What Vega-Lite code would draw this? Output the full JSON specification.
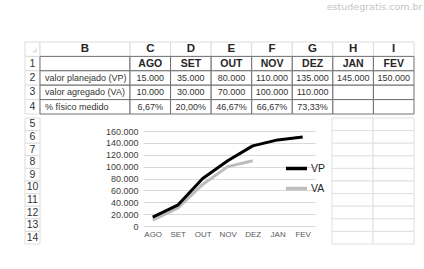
{
  "$schema": "https://vega.github.io/schema/vega-lite/v6.json",
  "padding": {"left": 24, "top": 2, "right": 0, "bottom": 0},
  "background": "white",
  "spacing": 0,
  "title": {"text": "estudegratis.com.br", "anchor": "end", "frame": "bounds", "font": "DejaVu Sans", "fontSize": 9.5, "fontWeight": "normal", "color": "#c4c4c4", "offset": 30, "dx": 8},
  "config": {
    "font": "Liberation Sans",
    "view": {"stroke": null},
    "concat": {"spacing": 0},
    "locale": {"number": {"decimal": ",", "thousands": ".", "grouping": [3], "currency": ["R$", ""]}}
  },
  "vconcat": [
    {
      "bounds": "flush",
      "spacing": 0,
      "hconcat": [
        {
          "width": 15, "height": 72,
          "data": {"values": [
            {"c": "#", "r": "h", "t": ""}, {"c": "#", "r": "1", "t": "1"}, {"c": "#", "r": "2", "t": "2"},
            {"c": "#", "r": "3", "t": "3"}, {"c": "#", "r": "4", "t": "4"}
          ]},
          "encoding": {
            "x": {"field": "c", "type": "nominal", "axis": null, "scale": {"paddingInner": 0, "paddingOuter": 0}},
            "y": {"field": "r", "type": "nominal", "sort": ["h", "1", "2", "3", "4"], "axis": null, "scale": {"paddingInner": 0, "paddingOuter": 0}}
          },
          "layer": [
            {"mark": {"type": "rect", "fill": "#ffffff", "stroke": "#dcdcdc", "strokeWidth": 1}},
            {"transform": [{"filter": "datum.r == 'h'"}], "mark": {"type": "point", "shape": "M1,-1L1,1L-1,1Z", "filled": true, "color": "#d6d6d6", "size": 22, "xOffset": 2, "yOffset": 1}},
            {"mark": {"type": "text", "fontSize": 10.5, "color": "#333333"}, "encoding": {"text": {"field": "t"}}}
          ]
        },
        {
          "width": 90, "height": 72,
          "data": {"values": [
            {"c": "B", "r": "h", "t": "B"}, {"c": "B", "r": "1", "t": ""},
            {"c": "B", "r": "2", "t": "valor planejado (VP)"}, {"c": "B", "r": "3", "t": "valor agregado (VA)"},
            {"c": "B", "r": "4", "t": "% físico medido"}
          ]},
          "encoding": {
            "x": {"field": "c", "type": "nominal", "axis": null, "scale": {"paddingInner": 0, "paddingOuter": 0}},
            "y": {"field": "r", "type": "nominal", "sort": ["h", "1", "2", "3", "4"], "axis": null, "scale": {"paddingInner": 0, "paddingOuter": 0}}
          },
          "layer": [
            {"transform": [{"filter": "datum.r == 'h'"}], "mark": {"type": "rect", "fill": "#ffffff", "stroke": "#dcdcdc", "strokeWidth": 1}},
            {"transform": [{"filter": "datum.r != 'h'"}], "mark": {"type": "rect", "fill": "#ffffff", "stroke": "#707070", "strokeWidth": 1}},
            {"transform": [{"filter": "datum.r == 'h'"}], "mark": {"type": "text", "fontSize": 11.5, "fontWeight": "bold", "color": "#262626"}, "encoding": {"text": {"field": "t"}}},
            {"transform": [{"filter": "datum.r != 'h'"}], "mark": {"type": "text", "fontSize": 9, "align": "left", "dx": 5, "color": "#333333"},
             "encoding": {"x": {"field": "c", "type": "nominal", "bandPosition": 0, "axis": null}, "text": {"field": "t"}}}
          ]
        },
        {
          "width": 284, "height": 72,
          "data": {"values": [
            {"c": "C", "r": "h", "t": "C"}, {"c": "C", "r": "1", "t": "AGO"}, {"c": "C", "r": "2", "t": "15.000"}, {"c": "C", "r": "3", "t": "10.000"}, {"c": "C", "r": "4", "t": "6,67%"},
            {"c": "D", "r": "h", "t": "D"}, {"c": "D", "r": "1", "t": "SET"}, {"c": "D", "r": "2", "t": "35.000"}, {"c": "D", "r": "3", "t": "30.000"}, {"c": "D", "r": "4", "t": "20,00%"},
            {"c": "E", "r": "h", "t": "E"}, {"c": "E", "r": "1", "t": "OUT"}, {"c": "E", "r": "2", "t": "80.000"}, {"c": "E", "r": "3", "t": "70.000"}, {"c": "E", "r": "4", "t": "46,67%"},
            {"c": "F", "r": "h", "t": "F"}, {"c": "F", "r": "1", "t": "NOV"}, {"c": "F", "r": "2", "t": "110.000"}, {"c": "F", "r": "3", "t": "100.000"}, {"c": "F", "r": "4", "t": "66,67%"},
            {"c": "G", "r": "h", "t": "G"}, {"c": "G", "r": "1", "t": "DEZ"}, {"c": "G", "r": "2", "t": "135.000"}, {"c": "G", "r": "3", "t": "110.000"}, {"c": "G", "r": "4", "t": "73,33%"},
            {"c": "H", "r": "h", "t": "H"}, {"c": "H", "r": "1", "t": "JAN"}, {"c": "H", "r": "2", "t": "145.000"}, {"c": "H", "r": "3", "t": ""}, {"c": "H", "r": "4", "t": ""},
            {"c": "I", "r": "h", "t": "I"}, {"c": "I", "r": "1", "t": "FEV"}, {"c": "I", "r": "2", "t": "150.000"}, {"c": "I", "r": "3", "t": ""}, {"c": "I", "r": "4", "t": ""}
          ]},
          "encoding": {
            "x": {"field": "c", "type": "nominal", "sort": ["C", "D", "E", "F", "G", "H", "I"], "axis": null, "scale": {"paddingInner": 0, "paddingOuter": 0}},
            "y": {"field": "r", "type": "nominal", "sort": ["h", "1", "2", "3", "4"], "axis": null, "scale": {"paddingInner": 0, "paddingOuter": 0}}
          },
          "layer": [
            {"transform": [{"filter": "datum.r == 'h'"}], "mark": {"type": "rect", "fill": "#ffffff", "stroke": "#dcdcdc", "strokeWidth": 1}},
            {"transform": [{"filter": "datum.r != 'h'"}], "mark": {"type": "rect", "fill": "#ffffff", "stroke": "#707070", "strokeWidth": 1}},
            {"transform": [{"filter": "datum.r == 'h'"}], "mark": {"type": "text", "fontSize": 11.5, "fontWeight": "bold", "color": "#262626"}, "encoding": {"text": {"field": "t"}}},
            {"transform": [{"filter": "datum.r == '1'"}], "mark": {"type": "text", "fontSize": 10.5, "fontWeight": "bold", "color": "#262626"}, "encoding": {"text": {"field": "t"}}},
            {"transform": [{"filter": "datum.r != 'h' && datum.r != '1'"}], "mark": {"type": "text", "fontSize": 9, "color": "#333333"}, "encoding": {"text": {"field": "t"}}}
          ]
        }
      ]
    },
    {
      "spacing": 0,
      "hconcat": [
        {
          "width": 15, "height": 126,
          "data": {"values": [
            {"c": "#", "r": "5"}, {"c": "#", "r": "6"}, {"c": "#", "r": "7"}, {"c": "#", "r": "8"}, {"c": "#", "r": "9"},
            {"c": "#", "r": "10"}, {"c": "#", "r": "11"}, {"c": "#", "r": "12"}, {"c": "#", "r": "13"}, {"c": "#", "r": "14"}
          ]},
          "encoding": {
            "x": {"field": "c", "type": "nominal", "axis": null, "scale": {"paddingInner": 0, "paddingOuter": 0}},
            "y": {"field": "r", "type": "nominal", "sort": ["5", "6", "7", "8", "9", "10", "11", "12", "13", "14"], "axis": null, "scale": {"paddingInner": 0, "paddingOuter": 0}}
          },
          "layer": [
            {"mark": {"type": "rect", "fill": "#ffffff", "stroke": "#dcdcdc", "strokeWidth": 1}},
            {"mark": {"type": "text", "fontSize": 10.5, "color": "#333333"}, "encoding": {"text": {"field": "r"}}}
          ]
        },
        {
          "width": 64, "height": 126,
          "data": {"values": [{}]},
          "mark": {"type": "text", "text": ""},
          "encoding": {}
        },
        {
          "spacing": 0,
          "vconcat": [
            {
              "width": 172, "height": 7,
              "data": {"values": [{}]},
              "mark": {"type": "text", "text": ""},
              "encoding": {}
            },
            {
              "width": 172, "height": 95,
              "data": {"values": [
                {"mes": "AGO", "serie": "VA", "valor": 10000},
                {"mes": "SET", "serie": "VA", "valor": 30000},
                {"mes": "OUT", "serie": "VA", "valor": 70000},
                {"mes": "NOV", "serie": "VA", "valor": 100000},
                {"mes": "DEZ", "serie": "VA", "valor": 110000},
                {"mes": "AGO", "serie": "VP", "valor": 15000},
                {"mes": "SET", "serie": "VP", "valor": 35000},
                {"mes": "OUT", "serie": "VP", "valor": 80000},
                {"mes": "NOV", "serie": "VP", "valor": 110000},
                {"mes": "DEZ", "serie": "VP", "valor": 135000},
                {"mes": "JAN", "serie": "VP", "valor": 145000},
                {"mes": "FEV", "serie": "VP", "valor": 150000}
              ]},
              "mark": {"type": "line", "strokeWidth": 3, "strokeJoin": "round"},
              "encoding": {
                "x": {"field": "mes", "type": "ordinal", "sort": ["AGO", "SET", "OUT", "NOV", "DEZ", "JAN", "FEV"],
                      "scale": {"type": "point", "padding": 0.44, "align": 0.44},
                      "axis": {"title": null, "domain": false, "ticks": false, "grid": false, "labelAngle": 0, "labelFontSize": 8, "labelColor": "#595959", "labelPadding": 4}},
                "y": {"field": "valor", "type": "quantitative",
                      "scale": {"domain": [0, 160000], "nice": false},
                      "axis": {"title": null, "values": [0, 20000, 40000, 60000, 80000, 100000, 120000, 140000, 160000], "format": ",d", "grid": true, "gridColor": "#d9d9d9", "domain": false, "ticks": false, "labelFontSize": 9, "labelColor": "#404040", "labelPadding": 5}},
                "color": {"field": "serie", "type": "nominal",
                          "scale": {"domain": ["VP", "VA"], "range": ["#000000", "#bdbdbd"]},
                          "legend": {"orient": "none", "legendX": 259, "legendY": 114, "title": null, "symbolType": "stroke", "symbolStrokeWidth": 3.5, "symbolSize": 441, "labelFontSize": 10.5, "labelColor": "#262626", "labelOffset": 2, "rowPadding": -9, "padding": 0}},
                "order": {"field": "serie", "sort": "ascending"}
              }
            }
          ]
        },
        {
          "width": 16, "height": 126,
          "data": {"values": [{}]},
          "mark": {"type": "text", "text": ""},
          "encoding": {}
        },
        {
          "width": 82, "height": 126,
          "data": {"values": [
            {"c": "H", "r": "5"}, {"c": "H", "r": "6"}, {"c": "H", "r": "7"}, {"c": "H", "r": "8"}, {"c": "H", "r": "9"},
            {"c": "H", "r": "10"}, {"c": "H", "r": "11"}, {"c": "H", "r": "12"}, {"c": "H", "r": "13"}, {"c": "H", "r": "14"},
            {"c": "I", "r": "5"}, {"c": "I", "r": "6"}, {"c": "I", "r": "7"}, {"c": "I", "r": "8"}, {"c": "I", "r": "9"},
            {"c": "I", "r": "10"}, {"c": "I", "r": "11"}, {"c": "I", "r": "12"}, {"c": "I", "r": "13"}, {"c": "I", "r": "14"}
          ]},
          "mark": {"type": "rect", "fill": "#ffffff", "stroke": "#e0e0e0", "strokeWidth": 1},
          "encoding": {
            "x": {"field": "c", "type": "nominal", "sort": ["H", "I"], "axis": null, "scale": {"paddingInner": 0, "paddingOuter": 0}},
            "y": {"field": "r", "type": "nominal", "sort": ["5", "6", "7", "8", "9", "10", "11", "12", "13", "14"], "axis": null, "scale": {"paddingInner": 0, "paddingOuter": 0}}
          }
        }
      ]
    }
  ]
}
